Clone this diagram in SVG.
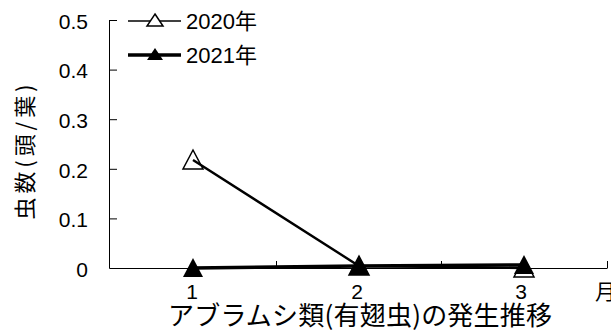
<svg xmlns="http://www.w3.org/2000/svg" width="611" height="331" viewBox="0 0 611 331">
<style>
text{font-family:"Liberation Sans","Noto Sans CJK JP",sans-serif;fill:#000}
.t{font-size:21px}
.lg{font-size:22px}
.yl{text-anchor:end}
.xl{text-anchor:middle;font-size:21px}
.ax{stroke:#000;stroke-width:1;fill:none}
.j{font-family:"Noto Sans CJK JP","Liberation Sans",sans-serif}
</style>
<defs>
<path id="tri" d="M0,-10 L10,9 L-10,9 Z"/>
<path id="ltri" d="M0,-7 L8,5 L-8,5 Z"/>
</defs>
<g id="axes">
<path class="ax" d="M109.5,20 V268.5 H607.5"/>
<path class="ax" d="M109,20.5 H117 M109,70.1 H117 M109,119.7 H117 M109,169.3 H117 M109,218.9 H117 M276.5,268 V261 M441.5,268 V261 M607.5,268 V261"/>
</g>
<g id="ylabels" class="t">
<text class="yl" x="88" y="29">0.5</text>
<text class="yl" x="88" y="78">0.4</text>
<text class="yl" x="88" y="128">0.3</text>
<text class="yl" x="88" y="178">0.2</text>
<text class="yl" x="88" y="227">0.1</text>
<text class="yl" x="88" y="277">0</text>
</g>
<g id="xlabels">
<text class="xl" x="192" y="299">1</text>
<text class="xl" x="357" y="299">2</text>
<text class="xl" x="521" y="299">3</text>
<text class="j" x="595" y="299" font-size="21">月</text>
</g>
<g id="connectors">
<g id="s2020-markers" fill="#fff" stroke="#000" stroke-width="1.5">
<use href="#tri" x="193" y="160"/>
<use href="#tri" x="359" y="266"/>
<use href="#tri" x="524" y="268"/>
</g>
<polyline id="s2020-line" points="193,160 359,266 524,268" fill="none" stroke="#000" stroke-width="2.4"/>
<polyline id="s2021-line" points="193,268 359,266 524,265" fill="none" stroke="#000" stroke-width="3.5"/>
<g id="s2021-markers" fill="#000">
<use href="#tri" x="193" y="268"/>
<use href="#tri" x="359" y="266"/>
<use href="#tri" x="524" y="265"/>
</g>
</g>
<g id="legend">
<g id="legend-2020">
<line x1="128" y1="21" x2="181" y2="21" stroke="#000" stroke-width="1.5"/>
<use href="#ltri" x="155" y="21" fill="#fff" stroke="#000" stroke-width="1.5"/>
<text class="lg" x="186" y="29">2020<tspan class="j">年</tspan></text>
</g>
<g id="legend-2021">
<line x1="128" y1="55" x2="181" y2="55" stroke="#000" stroke-width="3.5"/>
<use href="#ltri" x="155" y="55" fill="#000"/>
<text class="lg" x="186" y="63">2021<tspan class="j">年</tspan></text>
</g>
</g>
<g id="ytitle">
<text class="j" transform="translate(33,152) rotate(-90)" text-anchor="middle" font-size="22" textLength="135" lengthAdjust="spacing">虫数(頭/葉)</text>
</g>
<g id="title">
<text class="j" x="360" y="325" text-anchor="middle" font-size="26" textLength="384" lengthAdjust="spacing">アブラムシ類(有翅虫)の発生推移</text>
</g>
</svg>
